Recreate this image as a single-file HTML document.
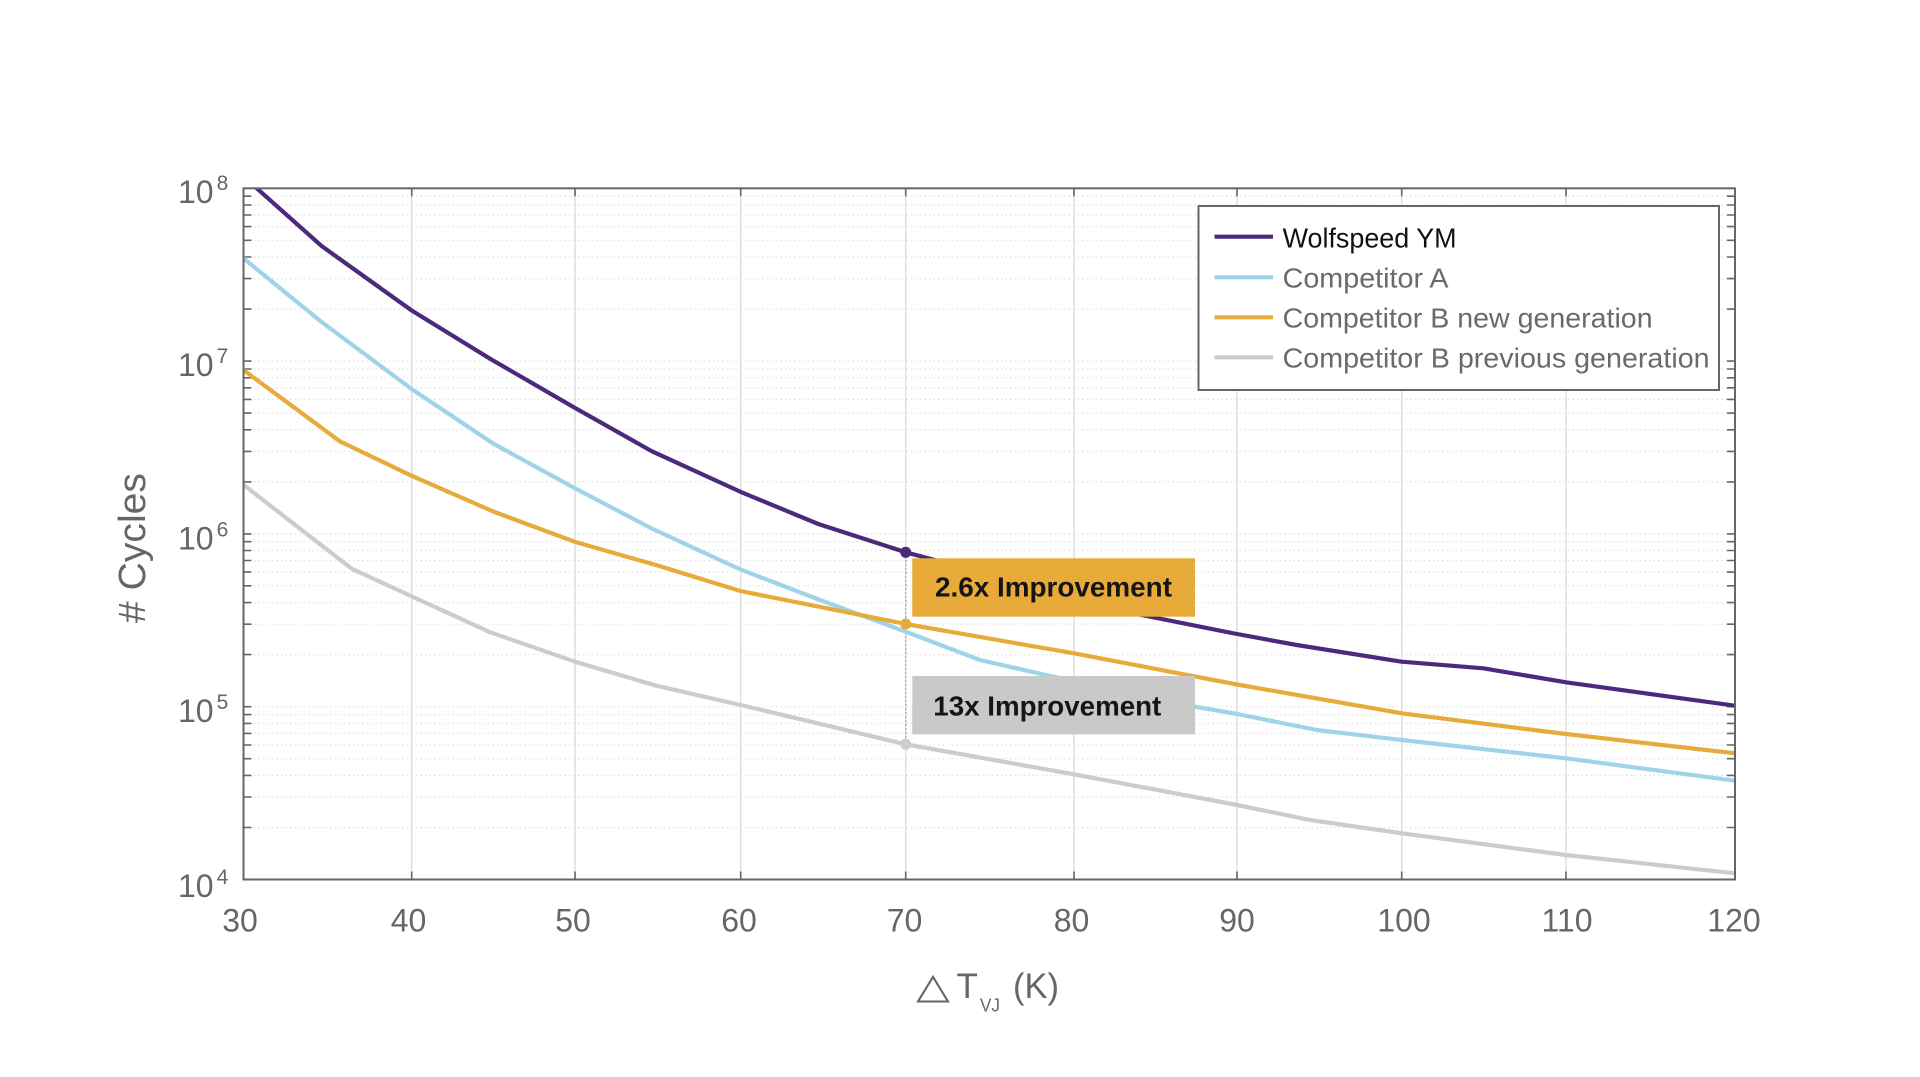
<!DOCTYPE html>
<html><head><meta charset="utf-8"><style>
html,body{margin:0;padding:0;background:#fff;}
svg{display:block;}
text{font-family:"Liberation Sans",Arial,sans-serif;}
</style></head><body>
<svg width="1920" height="1077" viewBox="0 0 1920 1077" xmlns="http://www.w3.org/2000/svg">
<rect x="0" y="0" width="1920" height="1077" fill="#fff"/>
<defs><clipPath id="pa"><rect x="243.5" y="188.3" width="1491.5" height="691.2"/></clipPath></defs>
<!-- horizontal dotted grid -->
<g stroke="#e0e0e0" stroke-width="1.2" stroke-dasharray="1.5,3" fill="none">
<path d="M245 654.6H1734M245 624.2H1734M245 602.6H1734M245 585.8H1734M245 572.1H1734M245 560.5H1734M245 550.5H1734M245 541.7H1734
M245 706.7H1734M245 533.9H1734M245 361.1H1734
M245 827.5H1734M245 797.0H1734M245 775.4H1734M245 758.7H1734M245 745.0H1734M245 733.4H1734M245 723.4H1734M245 714.6H1734
M245 481.9H1734M245 451.4H1734M245 429.8H1734M245 413.1H1734M245 399.4H1734M245 387.8H1734M245 377.8H1734M245 369.0H1734
M245 309.1H1734M245 278.6H1734M245 257.0H1734M245 240.3H1734M245 226.6H1734M245 215.0H1734M245 205.0H1734M245 196.2H1734"/>
</g>
<!-- vertical grid -->
<g stroke="#dedede" stroke-width="1.5">
<path d="M411.7 189V879M575 189V879M740.7 189V879M905.7 189V879M1074 189V879M1237 189V879M1401.7 189V879M1566 189V879"/>
</g>
<!-- ticks -->
<g stroke="#666" stroke-width="1.6">
<path d="M243.5 654.6h8M243.5 624.2h8M243.5 602.6h8M243.5 585.8h8M243.5 572.1h8M243.5 560.5h8M243.5 550.5h8M243.5 541.7h8
M243.5 706.7h8M243.5 533.9h8M243.5 361.1h8
M243.5 827.5h8M243.5 797.0h8M243.5 775.4h8M243.5 758.7h8M243.5 745.0h8M243.5 733.4h8M243.5 723.4h8M243.5 714.6h8
M243.5 481.9h8M243.5 451.4h8M243.5 429.8h8M243.5 413.1h8M243.5 399.4h8M243.5 387.8h8M243.5 377.8h8M243.5 369.0h8
M243.5 309.1h8M243.5 278.6h8M243.5 257.0h8M243.5 240.3h8M243.5 226.6h8M243.5 215.0h8M243.5 205.0h8M243.5 196.2h8"/>
<path d="M1735 654.6h-8M1735 624.2h-8M1735 602.6h-8M1735 585.8h-8M1735 572.1h-8M1735 560.5h-8M1735 550.5h-8M1735 541.7h-8
M1735 706.7h-8M1735 533.9h-8M1735 361.1h-8
M1735 827.5h-8M1735 797.0h-8M1735 775.4h-8M1735 758.7h-8M1735 745.0h-8M1735 733.4h-8M1735 723.4h-8M1735 714.6h-8
M1735 481.9h-8M1735 451.4h-8M1735 429.8h-8M1735 413.1h-8M1735 399.4h-8M1735 387.8h-8M1735 377.8h-8M1735 369.0h-8
M1735 309.1h-8M1735 278.6h-8M1735 257.0h-8M1735 240.3h-8M1735 226.6h-8M1735 215.0h-8M1735 205.0h-8M1735 196.2h-8"/>
<path d="M411.7 879.5v-8M575 879.5v-8M740.7 879.5v-8M905.7 879.5v-8M1074 879.5v-8M1237 879.5v-8M1401.7 879.5v-8M1566 879.5v-8
M411.7 188.3v8M575 188.3v8M740.7 188.3v8M905.7 188.3v8M1074 188.3v8M1237 188.3v8M1401.7 188.3v8M1566 188.3v8"/>
</g>
<!-- annotation dotted line -->
<path d="M905.7 552V744" stroke="#a8a8a8" stroke-width="1.3" stroke-dasharray="2,2"/>
<!-- curves -->
<g clip-path="url(#pa)" fill="none" stroke-width="4.2" stroke-linejoin="round" stroke-linecap="round">
<polyline stroke="#cccccc" points="243.3,484.7 320,544.2 351.7,568.7 411.7,596.4 490,632.2 575,661.7 656.7,685.8 740.7,705 905.7,744.3 1074,774.3 1237,805 1310,820 1401.7,833.3 1566,855 1735,873.3"/>
<polyline stroke="#9fd4e8" points="243.3,258.2 321.7,322.1 411.7,389.1 493.3,443.6 575,488.3 651.7,528.5 740.7,569.6 820,600 905.7,631.7 980,660 1053.3,676.7 1195,706.7 1237,714 1316.7,730 1401.7,740 1566,758.3 1735,780.7"/>
<polyline stroke="#e7ab3b" points="243.3,369.9 340,441.4 411.7,475.8 493.3,511.5 575,541.9 656.7,565.2 740.7,591.1 905.7,624 1074,653.3 1237,684.5 1401.7,713.3 1566,734 1735,753.3"/>
<polyline stroke="#4b2a7c" points="243.5,176.5 321.7,246.1 411.7,310.5 490,358.7 575,407.9 651.7,451.2 740.7,491.9 818.3,524 905.7,552.3 1074,597 1133.3,613.3 1237,634 1296.7,645 1401.7,661.7 1483.3,668.3 1566,682.3 1735,705.7"/>
</g>
<!-- markers -->
<circle cx="905.7" cy="552.3" r="5.5" fill="#4b2a7c"/>
<circle cx="905.7" cy="624" r="5.5" fill="#e7ab3b"/>
<circle cx="905.7" cy="744.3" r="5.5" fill="#cccccc"/>
<!-- annotation boxes -->
<rect x="912.3" y="558.3" width="282.7" height="58.4" fill="#e8ab39"/>
<text x="935" y="596.7" font-size="28" font-weight="bold" fill="#151515" textLength="237" lengthAdjust="spacingAndGlyphs">2.6x Improvement</text>
<rect x="912.3" y="676" width="282.7" height="58.3" fill="#c9c9c9"/>
<text x="933.3" y="715.7" font-size="28" font-weight="bold" fill="#151515" textLength="228" lengthAdjust="spacingAndGlyphs">13x Improvement</text>
<!-- axes frame -->
<rect x="243.5" y="188.3" width="1491.5" height="691.2" fill="none" stroke="#666" stroke-width="2"/>
<!-- legend -->
<rect x="1198.5" y="206" width="520.5" height="184" fill="#fff" stroke="#666" stroke-width="2"/>
<g stroke-width="4.2">
<line x1="1214.5" y1="236.7" x2="1273" y2="236.7" stroke="#4b2a7c"/>
<line x1="1214.5" y1="277.3" x2="1273" y2="277.3" stroke="#9fd4e8"/>
<line x1="1214.5" y1="317.3" x2="1273" y2="317.3" stroke="#e7ab3b"/>
<line x1="1214.5" y1="357.3" x2="1273" y2="357.3" stroke="#cccccc"/>
</g>
<g font-size="28">
<text x="1282.6" y="247.3" fill="#111" textLength="174" lengthAdjust="spacingAndGlyphs">Wolfspeed YM</text>
<text x="1282.6" y="287.3" fill="#6a6a6a" textLength="166" lengthAdjust="spacingAndGlyphs">Competitor A</text>
<text x="1282.6" y="327.3" fill="#6a6a6a" textLength="370" lengthAdjust="spacingAndGlyphs">Competitor B new generation</text>
<text x="1282.6" y="367.3" fill="#6a6a6a" textLength="427" lengthAdjust="spacingAndGlyphs">Competitor B previous generation</text>
</g>
<!-- y tick labels -->
<g fill="#666" font-size="32">
<text x="178" y="203">10<tspan font-size="21" dx="3" dy="-13">8</tspan></text>
<text x="178" y="376">10<tspan font-size="21" dx="3" dy="-13">7</tspan></text>
<text x="178" y="549.5">10<tspan font-size="21" dx="3" dy="-13">6</tspan></text>
<text x="178" y="722">10<tspan font-size="21" dx="3" dy="-13">5</tspan></text>
<text x="178" y="897">10<tspan font-size="21" dx="3" dy="-13">4</tspan></text>
</g>
<!-- x tick labels -->
<g fill="#666" font-size="32" text-anchor="middle">
<text x="240" y="931.7">30</text>
<text x="408.5" y="931.7">40</text>
<text x="573" y="931.7">50</text>
<text x="739" y="931.7">60</text>
<text x="904.5" y="931.7">70</text>
<text x="1071.5" y="931.7">80</text>
<text x="1237" y="931.7">90</text>
<text x="1404" y="931.7">100</text>
<text x="1567" y="931.7">110</text>
<text x="1734" y="931.7">120</text>
</g>
<!-- y axis title -->
<text transform="translate(145,623) rotate(-90)" x="0" y="0" font-size="38" fill="#666" textLength="150" lengthAdjust="spacingAndGlyphs"># Cycles</text>
<!-- x axis title -->
<text x="916" y="998" font-size="36" fill="#666" style="font-family:'DejaVu Sans',sans-serif" textLength="34" lengthAdjust="spacingAndGlyphs">△</text>
<text x="956.5" y="998" font-size="35" fill="#666">T</text>
<text x="980" y="1011.7" font-size="18" fill="#666" textLength="20" lengthAdjust="spacingAndGlyphs">VJ</text>
<text x="1013" y="998" font-size="35" fill="#666" textLength="46" lengthAdjust="spacingAndGlyphs">(K)</text>
</svg>
</body></html>
